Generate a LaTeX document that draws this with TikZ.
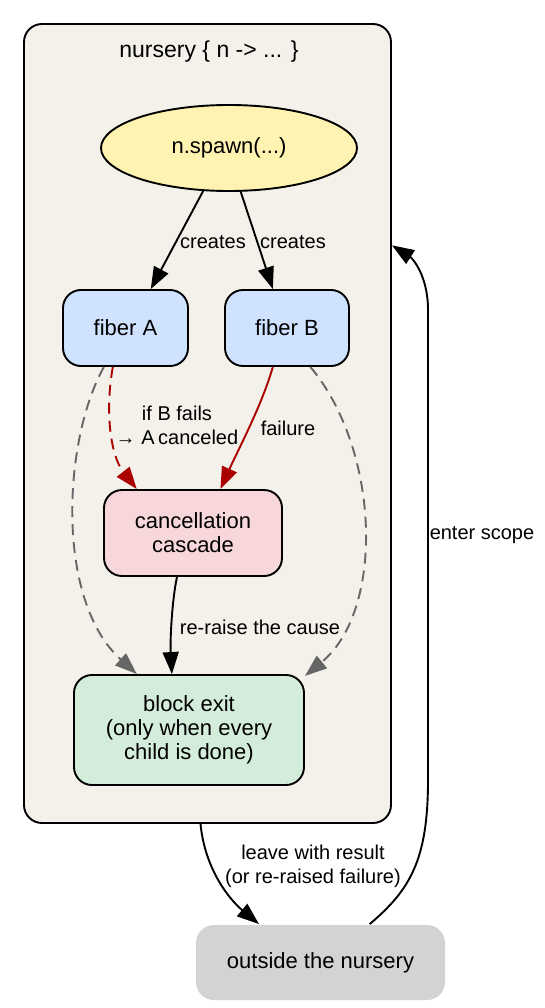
\documentclass[tikz,border=0pt]{standalone}
\usepackage{fontspec}
\setmainfont{Liberation Sans}
\usetikzlibrary{arrows.meta,shapes.geometric}
\definecolor{clusterbg}{HTML}{F4F1EA}
\definecolor{spawnbg}{HTML}{FEF3B0}
\definecolor{fiberbg}{HTML}{CFE2FF}
\definecolor{cascbg}{HTML}{F8D7DA}
\definecolor{exitbg}{HTML}{D4EDDA}
\definecolor{outbg}{HTML}{D3D3D3}
\definecolor{failred}{HTML}{AA0000}
\definecolor{waitgray}{HTML}{666666}
\begin{document}
\begin{tikzpicture}[x=1pt,y=-1pt,
  nodefont/.style={font=\fontsize{22}{24}\selectfont},
  lblfont/.style={font=\fontsize{20}{24}\selectfont},
  box/.style={nodefont, draw=black, line width=1.9pt, rounded corners=18pt, inner sep=0pt, align=center},
  clusterbox/.style={draw=black, fill=clusterbg, line width=1.9pt, rounded corners=18pt, inner sep=0pt, minimum width=367pt, minimum height=799pt},
  lbl/.style={lblfont, align=center, inner sep=0pt},
  arr/.style={line width=1.9pt, -{Triangle[length=22pt,width=16pt]}},
  redarr/.style={arr, draw=failred, -{Triangle[length=22pt,width=16pt,fill=failred]}},
  grayarr/.style={arr, draw=waitgray, dash pattern=on 11pt off 7pt, -{Triangle[length=22pt,width=16pt,fill=waitgray]}},
]
\useasboundingbox (0,0) rectangle (544,1008);

% cluster
\node[clusterbox] (nur) at (207.5,423.5) {};
\node[font=\fontsize{23}{26}\selectfont, inner sep=0pt] (nurlbl) at (209,52) {nursery \{ n -> ... \}};

% nodes
\node[nodefont, ellipse, draw=black, fill=spawnbg, line width=1.9pt, minimum width=256pt, minimum height=86pt, inner sep=0pt] (spawn) at (229,148) {n.spawn(...)};
\node[box, fill=fiberbg, minimum width=125pt, minimum height=76pt] (fa) at (125.5,328) {fiber A};
\node[box, fill=fiberbg, minimum width=124pt, minimum height=76pt] (fb) at (287,328) {fiber B};
\node[box, fill=cascbg, minimum width=178pt, minimum height=86pt] (casc) at (193,533) {cancellation\\cascade};
\node[box, fill=exitbg, minimum width=230pt, minimum height=110pt] (exit) at (189,730) {block exit\\(only when every\\child is done)};
\node[box, draw=none, fill=outbg, minimum width=249pt, minimum height=75pt] (out) at (320.5,962.5) {outside the nursery};

% edges
\draw[arr] (spawn.239) -- (fa.57) node[lbl] at (213,242) {creates};
\draw[arr] (spawn.285) -- (fb.110) node[lbl] at (293,242) {creates};

\draw[redarr, dash pattern=on 11pt off 7pt] (fa.252) .. controls (105,410) and (110,455) .. (casc.142)
  node[lbl] at (177,425) {if B fails\\→ A\kern-2pt\ canceled};
\draw[redarr] (fb.250) .. controls (262,405) and (238,450) .. (casc.58)
  node[lbl] at (288,428) {failure};

\draw[grayarr] (fa.241) .. controls (63,440) and (55,600) .. (exit.133);
\draw[grayarr] (fb.301) .. controls (380,450) and (385,610) .. (exit.25);

\draw[arr] (casc.250) .. controls (172,600) and (170,640) .. (exit.107)
  node[lbl] at (260,627) {re-raise the cause};

\draw[arr] (nur.269) .. controls (205,870) and (230,900) .. (out.148)
  node[lbl] at (313,866) {leave with result\\(or re-raised failure)};
\draw[arr] (out.38) .. controls (410,890) and (428,860) .. (428,780) -- (428,310) .. controls (428,275) and (412,258) .. (nur.44)
  node[lbl] at (482,535) {enter scope};
\end{tikzpicture}
\end{document}
